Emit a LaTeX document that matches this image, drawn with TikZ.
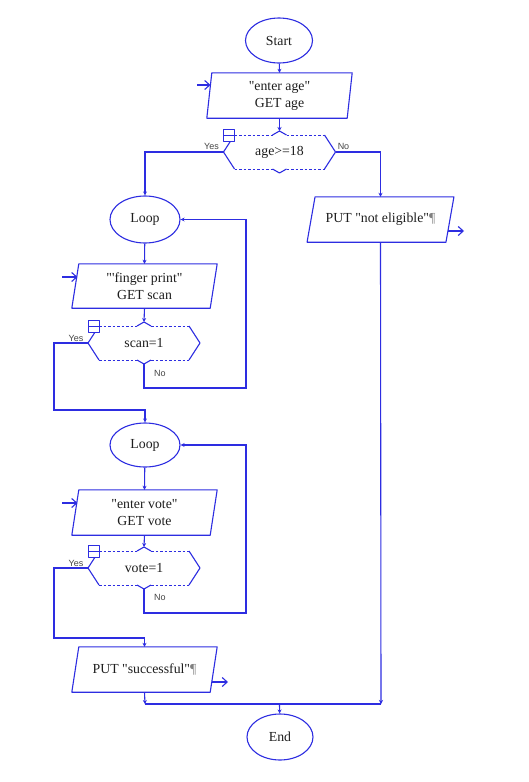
\documentclass[tikz,border=0pt]{standalone}
\usepackage{fontspec}
\newfontfamily\txtfont{Liberation Serif}
\newfontfamily\lblfont{Liberation Sans}
\usetikzlibrary{arrows.meta,calc,shapes.geometric}
\definecolor{fcblue}{RGB}{45,45,225}
\definecolor{fctext}{RGB}{30,30,30}
\definecolor{lblgray}{RGB}{70,70,70}

\tikzset{
  x=1pt, y=-1pt,
  fc/.style={draw=fcblue, line width=1.1pt, line join=round},
  dashfc/.style={draw=fcblue, line width=0.8pt, dash pattern=on 2.5pt off 2pt},
  term/.style={ellipse, draw=fcblue, line width=1.1pt, inner sep=0pt,
    font=\txtfont\fontsize{13.8}{17}\selectfont, text=fctext},
  txt/.style={inner sep=0pt, font=\txtfont\fontsize{13.8}{17}\selectfont, text=fctext, align=center},
  conn/.style={draw=fcblue, line width=1.1pt, -{Stealth[length=4pt,width=4pt]}},
  plain/.style={draw=fcblue, line width=1.1pt},
  io/.style={draw=fcblue, line width=1.1pt, -{Straight Barb[length=5pt,width=9pt]}},
  lbl/.style={font=\lblfont\fontsize{9}{10}\selectfont, text=lblgray, inner sep=0pt},
}

% parallelogram around node #1 with slant #2
\newcommand\paraoutline[2]{%
  \draw[fc] ([xshift=#2/2]#1.north west) -- ([xshift=#2/2]#1.north east)
    -- ([xshift=-#2/2]#1.south east) -- ([xshift=-#2/2]#1.south west) -- cycle;}

% decision hexagon around node #1
\newcommand\decoutline[1]{%
  \coordinate (#1L) at ([shift={(-56,0)}]#1.center);
  \coordinate (#1R) at ([shift={(56,0)}]#1.center);
  \coordinate (#1T) at ([shift={(0,-21)}]#1.center);
  \coordinate (#1B) at ([shift={(0,21)}]#1.center);
  \draw[fc] ([shift={(-45,-17)}]#1.center) -- (#1L) -- ([shift={(-45,17)}]#1.center);
  \draw[fc] ([shift={(45,-17)}]#1.center) -- (#1R) -- ([shift={(45,17)}]#1.center);
  \draw[dashfc] ([shift={(-45,-17)}]#1.center) -- ([shift={(-7,-17)}]#1.center);
  \draw[dashfc] ([shift={(7,-17)}]#1.center) -- ([shift={(45,-17)}]#1.center);
  \draw[dashfc] ([shift={(-45,17)}]#1.center) -- ([shift={(-7,17)}]#1.center);
  \draw[dashfc] ([shift={(7,17)}]#1.center) -- ([shift={(45,17)}]#1.center);
  \draw[fc] ([shift={(-7,-17)}]#1.center) -- (#1T) -- ([shift={(7,-17)}]#1.center);
  \draw[fc] ([shift={(-7,17)}]#1.center) -- (#1B) -- ([shift={(7,17)}]#1.center);
  \draw[fc, fill=white, line width=1pt] ([shift={(-56,-23)}]#1.center) rectangle ([shift={(-45,-11)}]#1.center);
  \draw[fc, line width=1pt] ([shift={(-56,-17)}]#1.center) -- ([shift={(-45,-17)}]#1.center);
}

\begin{document}
\begin{tikzpicture}
\useasboundingbox[fill=white] (0,0) rectangle (528,782);

% ---- nodes ----
\node[term, minimum width=67pt, minimum height=45pt] (start) at (279,40.5) {Start};

\node[txt, minimum width=140pt, minimum height=45pt] (p1) at (279.5,95.5) {"enter age"\\GET age};
\paraoutline{p1}{5}

\node[txt, minimum width=112pt, minimum height=34pt] (d1) at (279.5,152) {age>=18};
\decoutline{d1}

\node[term, minimum width=70pt, minimum height=47pt] (loop1) at (145,219.5) {Loop};

\node[txt, minimum width=138pt, minimum height=44pt] (p2) at (144.5,286) {"'finger print"\\GET scan};
\paraoutline{p2}{7}

\node[txt, minimum width=112pt, minimum height=34pt] (d2) at (144,343) {scan=1};
\decoutline{d2}

\node[term, minimum width=70pt, minimum height=44pt] (loop2) at (145,445) {Loop};

\node[txt, minimum width=138pt, minimum height=45pt] (p3) at (144.5,512.5) {"enter vote"\\GET vote};
\paraoutline{p3}{7}

\node[txt, minimum width=112pt, minimum height=34pt] (d3) at (144,568) {vote=1};
\decoutline{d3}

\node[txt, minimum width=138pt, minimum height=45pt] (p4) at (144.5,669.5) {PUT "successful"{\color{gray}¶}};
\paraoutline{p4}{7}

\node[txt, minimum width=138.5pt, minimum height=45pt] (pne) at (380.5,219.5) {PUT "not eligible"{\color{gray}¶}};
\paraoutline{pne}{8}

\node[term, minimum width=66pt, minimum height=46pt] (end) at (280,737) {End};

% ---- labels ----
\node[lbl] (y1) at ($(d1L)+(-12,-6)$) {Yes};
\node[lbl] (n1) at ($(d1R)+(8,-6)$) {No};
\node[lbl] (y2) at ($(d2L)+(-12,-5)$) {Yes};
\node[lbl] (n2) at ($(d2B)+(16,9)$) {No};
\node[lbl] (y3) at ($(d3L)+(-12,-5)$) {Yes};
\node[lbl] (n3) at ($(d3B)+(16,8)$) {No};

% ---- helper coordinates ----
\coordinate (e1) at (197,85);
\coordinate (e1t) at (210.5,85);
\coordinate (e2) at (62,277);
\coordinate (e2t) at (77.5,277);
\coordinate (e3) at (62,503);
\coordinate (e3t) at (77.5,503);
\coordinate (o1s) at (448,231);
\coordinate (o1) at (464,231);
\coordinate (o2s) at (211.5,682);
\coordinate (o2) at (228,682);
\coordinate (w1) at (246,388);
\coordinate (w2) at (246,613);
\coordinate (k1) at (54,410);
\coordinate (k2) at (54,638);
\coordinate (m) at (279.5,704);
\coordinate (mr) at (381,704);
\coordinate (ml) at (145,704);

% ---- connectors ----
\draw[conn] (start) -- (p1.north);
\draw[conn] (p1.south) -- (d1T);
\draw[conn] (d1L) -| (loop1);
\draw[conn] (d1R) -| (pne.north);
\draw[conn] (loop1) -- (p2.north);
\draw[conn] (p2.south) -- (d2T);
\draw[conn] (d2B) |- (w1) |- (loop1.east);
\draw[conn] (d2L) -| (k1) -| (loop2);
\draw[conn] (loop2) -- (p3.north);
\draw[conn] (p3.south) -- (d3T);
\draw[conn] (d3B) |- (w2) |- (loop2.east);
\draw[conn] (d3L) -| (k2) -| (p4.north);
\draw[conn] (p4.south) -- (ml);
\draw[conn] (pne.south) -- (mr);
\draw[plain] (ml) -- (mr);
\draw[conn] (m) -- (end);

\draw[io] (e1) -- (e1t);
\draw[io] (e2) -- (e2t);
\draw[io] (e3) -- (e3t);
\draw[io] (o1s) -- (o1);
\draw[io] (o2s) -- (o2);
\end{tikzpicture}
\end{document}
